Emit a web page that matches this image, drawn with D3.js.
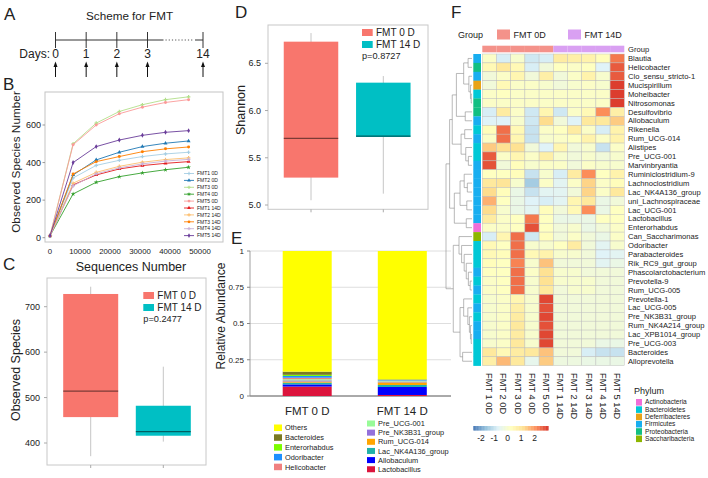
<!DOCTYPE html>
<html><head><meta charset="utf-8">
<script src="https://cdn.jsdelivr.net/npm/d3@7"></script>
<style>
body{margin:0;background:#fff}
svg{display:block}
text{font-family:"Liberation Sans",Arial,Helvetica,sans-serif;fill:#222}
</style>
</head><body>
<svg id="c" width="708" height="478"></svg>
<script>
// ---------------- DATA ----------------
const days = [0, 1, 2, 3, 14];
const dayLabels = ["0", "1", "2", "3", "14"];

const seqDepths = [0, 7700, 15400, 23100, 30800, 38500, 46200];
const rareSamples = ["FMT1 0D","FMT2 0D","FMT3 0D","FMT4 0D","FMT5 0D","FMT1 14D","FMT2 14D","FMT3 14D","FMT4 14D","FMT5 14D"];
const rareColors = ["#a6cee3","#1f78b4","#b2df8a","#33a02c","#fb9a99","#e31a1c","#fdbf6f","#ff7f00","#cab2d6","#6a3d9a"];
const rareValues = [
  [10, 318, 385, 412, 432, 446, 455],
  [10, 334, 414, 455, 485, 503, 515],
  [10, 500, 610, 672, 708, 735, 750],
  [10, 233, 295, 325, 345, 362, 375],
  [10, 495, 600, 660, 695, 720, 735],
  [10, 281, 334, 366, 384, 396, 405],
  [10, 290, 348, 380, 402, 416, 425],
  [10, 339, 405, 432, 458, 473, 483],
  [10, 276, 340, 372, 393, 408, 417],
  [10, 400, 485, 520, 545, 561, 570]
];
const xTicksB = [0, 10000, 20000, 30000, 40000, 50000];
const yTicksB = [0, 200, 400, 600];

const boxGroups = ["FMT 0 D", "FMT 14 D"];
const boxColors = ["#f8766d", "#00bfc4"];
// min, q1, median, q3, max
const obsStats = [[371, 457, 514, 728, 744], [403, 416, 425, 482, 568]];
const obsTicks = [400, 500, 600, 700];
const obsP = "p=0.2477";
const shanStats = [[5.05, 5.29, 5.706, 6.729, 6.82], [5.12, 5.72, 5.73, 6.295, 6.365]];
const shanTicks = [5.0, 5.5, 6.0, 6.5];
const shanP = "p=0.8727";

const barGroups = ["FMT 0 D", "FMT 14 D"];
const taxa = ["Lactobacillus","Allobaculum","Lac_NK4A136_group","Rum_UCG-014","Pre_NK3B31_group","Pre_UCG-001","Helicobacter","Odoribacter","Enterorhabdus","Bacteroides","Others"];
const taxaColors = ["#dc143c","#0000ff","#20b2aa","#ffa500","#9370db","#98fb98","#f08080","#1e90ff","#7cfc00","#7a7a22","#ffff00"];
const abund0D  = [0.065, 0.015, 0.012, 0.008, 0.008, 0.008, 0.010, 0.012, 0.008, 0.022, 0.832];
const abund14D = [0.007, 0.055, 0.014, 0.018, 0.006, 0.004, 0.002, 0.004, 0.002, 0.003, 0.885];
const legendLeft = ["Others","Bacteroides","Enterorhabdus","Odoribacter","Helicobacter"];
const legendRight = ["Pre_UCG-001","Pre_NK3B31_group","Rum_UCG-014","Lac_NK4A136_group","Allobaculum","Lactobacillus"];
const abundTicks = [0, 0.25, 0.5, 0.75, 1];
const abundTickLabels = ["0", "0.25", "0.5", "0.75", "1"];

const heatSamples = ["FMT 1 0D","FMT 2 0D","FMT 3 0D","FMT 4 0D","FMT 5 0D","FMT 1 14D","FMT 2 14D","FMT 3 14D","FMT 4 14D","FMT 5 14D"];
const heatGroupOf = ["FMT 0D","FMT 0D","FMT 0D","FMT 0D","FMT 0D","FMT 14D","FMT 14D","FMT 14D","FMT 14D","FMT 14D"];
const groupNames = ["FMT 0D", "FMT 14D"];
const groupColors = ["#f4928a", "#d9a0f2"];
const genera = ["Blautia","Helicobacter","Clo_sensu_stricto-1","Mucispirillum","Moheibacter","Nitrosomonas","Desulfovibrio","Allobaculum","Rikenella","Rum_UCG-014","Alistipes","Pre_UCG-001","Marvinbryantia","Ruminiclostridium-9","Lachnoclostridium","Lac_NK4A136_group","uni_Lachnospiraceae","Lac_UCG-001","Lactobacillus","Enterorhabdus","Can_Saccharimonas","Odoribacter","Parabacteroides","Rik_RC9_gut_group","Phascolarctobacterium","Prevotella-9","Rum_UCG-005","Prevotella-1","Lac_UCG-005","Pre_NK3B31_group","Rum_NK4A214_group","Lac_XPB1014_group","Pre_UCG-003","Bacteroides","Alloprevotella"];
const generaPhylum = ["Firmicutes","Proteobacteria","Firmicutes","Deferribacteres","Bacteroidetes","Proteobacteria","Proteobacteria","Firmicutes","Bacteroidetes","Firmicutes","Bacteroidetes","Bacteroidetes","Firmicutes","Firmicutes","Firmicutes","Firmicutes","Firmicutes","Firmicutes","Firmicutes","Actinobacteria","Saccharibacteria","Bacteroidetes","Bacteroidetes","Bacteroidetes","Firmicutes","Bacteroidetes","Firmicutes","Bacteroidetes","Firmicutes","Bacteroidetes","Firmicutes","Firmicutes","Bacteroidetes","Bacteroidetes","Bacteroidetes"];
const heatValues = [
  [0.1,-0.8,0.0,-0.9,-0.8,0.8,0.7,0.6,0.3,2.3],
  [0.4,0.9,0.4,-0.8,-0.2,0.2,0.1,0.2,-0.7,2.6],
  [-0.2,0.1,0.5,-0.2,0.7,-0.2,0.1,0.6,0.0,2.6],
  [-0.2,0.4,0.1,0.1,0.0,-0.2,0.0,0.1,0.0,2.9],
  [0.1,0.2,0.1,0.1,0.1,0.1,0.1,0.1,0.1,2.9],
  [0.1,0.1,0.1,0.1,0.1,0.1,0.1,0.1,0.1,2.9],
  [-0.8,0.8,0.1,-0.9,0.5,-0.9,0.1,0.4,2.1,0.7],
  [-0.7,-0.7,0.0,-0.9,1.2,-0.2,-0.7,0.9,0.9,1.4],
  [0.3,2.4,0.4,-1.0,0.1,0.2,0.8,0.1,-0.8,0.6],
  [0.1,2.4,0.5,-1.0,0.0,0.1,0.2,0.6,0.1,0.6],
  [1.4,1.1,1.1,-0.2,-0.7,0.5,-0.2,0.0,-1.0,0.1],
  [2.6,0.1,0.5,0.1,0.7,0.0,-0.2,0.0,-0.2,0.0],
  [2.7,-0.2,0.3,0.0,0.1,0.1,-0.2,0.1,0.0,0.0],
  [0.2,0.2,0.3,-1.0,0.0,-0.8,0.8,2.1,0.2,0.6],
  [0.9,1.0,0.0,-1.4,0.1,-0.6,0.1,1.3,0.1,0.3],
  [1.2,0.3,-0.4,-1.0,-0.6,-0.6,-0.2,1.3,0.1,0.9],
  [1.7,0.2,-0.4,-0.7,-0.8,-0.6,0.5,0.9,-0.4,-0.2],
  [1.2,0.0,-0.4,-0.6,0.3,-0.2,0.4,2.1,-0.4,0.2],
  [0.8,0.1,0.2,2.3,0.2,-0.4,-0.4,-0.4,0.2,0.2],
  [0.1,0.1,0.2,2.7,0.2,-0.2,0.0,-0.4,-0.2,0.1],
  [-0.8,0.5,2.4,-0.9,0.3,-0.2,0.1,-0.2,-0.4,0.1],
  [0.4,0.2,2.4,0.0,0.0,0.2,0.8,-0.2,-0.6,0.0],
  [0.4,0.3,2.4,0.4,0.6,0.0,0.0,-0.2,-0.7,-0.6],
  [0.3,0.2,2.2,0.0,1.5,-0.2,-0.2,-0.2,-0.6,-0.4],
  [0.2,0.2,2.4,0.1,1.1,0.0,0.0,-0.2,-0.2,-0.2],
  [0.1,0.2,2.4,0.0,1.1,0.0,0.0,0.0,-0.2,-0.2],
  [0.1,0.2,2.4,0.0,0.9,-0.2,0.0,0.0,-0.2,-0.2],
  [0.0,0.1,0.5,0.0,2.8,-0.2,-0.2,-0.2,-0.2,-0.2],
  [0.0,0.1,0.7,0.0,2.7,-0.2,-0.2,-0.2,-0.2,-0.2],
  [0.0,0.1,0.8,0.0,2.8,-0.2,-0.2,-0.2,-0.2,-0.2],
  [0.0,0.1,0.9,0.0,2.7,-0.2,-0.2,-0.2,-0.2,-0.2],
  [0.0,0.1,0.8,0.0,2.8,-0.2,-0.2,-0.2,-0.2,-0.2],
  [0.0,0.1,0.9,0.0,2.8,-0.2,-0.2,-0.2,-0.4,-0.4],
  [0.9,0.4,0.8,0.9,1.5,-0.2,-0.2,-0.8,-1.0,-1.0],
  [0.7,1.6,0.9,-0.5,1.4,-0.3,-0.3,-0.4,-0.4,-0.4]
];
const phyla = ["Actinobacteria","Bacteroidetes","Deferribacteres","Firmicutes","Proteobacteria","Saccharibacteria"];
const phylaColors = ["#f06ed8","#00c8d6","#e8a317","#18aef0","#12bf82","#8db600"];
const colorTicks = [-2, -1, 0, 1, 2];
const heatRange = [-2.57, 3.03];
const heatPalette = ["#4575b4","#91bfdb","#e0f3f8","#ffffbf","#fee090","#fc8d59","#d73027"];
// row dendrogram: [height, left, right]
const dendro = [1.0,
  [0.86,
    [0.76,
      [0.6,
        [0.32, [0.15,"Blautia","Helicobacter"], [0.12,"Clo_sensu_stricto-1",[0.06,"Mucispirillum",[0.03,"Moheibacter","Nitrosomonas"]]]],
        [0.26,"Desulfovibrio","Allobaculum"]],
      [0.42,
        [0.28,"Rikenella","Rum_UCG-014"],
        [0.24,"Alistipes",[0.14,"Pre_UCG-001","Marvinbryantia"]]]],
    [0.68,
      [0.46,
        [0.3,"Ruminiclostridium-9",[0.18,"Lachnoclostridium","Lac_NK4A136_group"]],
        [0.2,"uni_Lachnospiraceae","Lac_UCG-001"]],
      [0.22,"Lactobacillus","Enterorhabdus"]]],
  [0.72,
    [0.5,"Can_Saccharimonas",[0.4,"Odoribacter",[0.3,"Parabacteroides",[0.22,"Rik_RC9_gut_group",[0.14,"Phascolarctobacterium",[0.07,"Prevotella-9","Rum_UCG-005"]]]]]],
    [0.46,
      [0.32,"Prevotella-1",[0.16,"Lac_UCG-005",[0.1,"Pre_NK3B31_group",[0.06,"Rum_NK4A214_group",[0.03,"Lac_XPB1014_group","Pre_UCG-003"]]]]],
      [0.36,"Bacteroides","Alloprevotella"]]]
];

// ---------------- DRAWING ----------------
const svg = d3.select("#c");
const panelLabels = [["A",4,20],["B",3,90],["C",3,270],["D",235,18],["E",231,244],["F",451,18]];
svg.selectAll("text.plab").data(panelLabels).join("text").attr("class","plab")
  .attr("x",d=>d[1]).attr("y",d=>d[2]).attr("font-size",17).text(d=>d[0]);

// ===== Panel A =====
(function(){
  const g = svg.append("g");
  const x = d3.scaleLinear().domain([0,3,14]).range([55.5,147.5,203]);
  const yLine = 40;
  g.append("text").attr("x",86).attr("y",20).attr("font-size",11.7).text("Scheme for FMT");
  g.append("line").attr("x1",x(0)).attr("x2",x(3)+16).attr("y1",yLine).attr("y2",yLine).attr("stroke","#333").attr("stroke-width",1);
  g.append("line").attr("x1",x(3)+18).attr("x2",x(14)-10).attr("y1",yLine).attr("y2",yLine).attr("stroke","#555").attr("stroke-width",1).attr("stroke-dasharray","1.2,2");
  g.append("line").attr("x1",x(14)-8).attr("x2",x(14)).attr("y1",yLine).attr("y2",yLine).attr("stroke","#333");
  g.selectAll("line.tk").data(days).join("line").attr("class","tk")
    .attr("x1",d=>x(d)).attr("x2",d=>x(d)).attr("y1",yLine-8).attr("y2",yLine+8).attr("stroke","#333");
  g.selectAll("text.dl").data(days).join("text").attr("class","dl")
    .attr("x",d=>x(d)).attr("y",58).attr("text-anchor","middle").attr("font-size",12).text((d,i)=>dayLabels[i]);
  g.append("text").attr("x",50).attr("y",58).attr("text-anchor","end").attr("font-size",12).text("Days:");
  g.selectAll("line.ar").data(days).join("line").attr("class","ar")
    .attr("x1",d=>x(d)).attr("x2",d=>x(d)).attr("y1",66).attr("y2",77).attr("stroke","#111").attr("stroke-width",1);
  g.selectAll("path.ah").data(days).join("path").attr("class","ah")
    .attr("d",d=>`M${x(d)},61.5L${x(d)-2},67L${x(d)+2},67Z`).attr("fill","#111");
})();

// ===== Panel B =====
(function(){
  const g = svg.append("g");
  const x = d3.scaleLinear().domain([0,50000]).range([50,200]);
  const y = d3.scaleLinear().domain([0,600]).range([237.7,125]);
  g.append("rect").attr("x",45).attr("y",92).attr("width",178).attr("height",150).attr("fill","#fff").attr("stroke","#c4c4c4");
  g.selectAll("text.yt").data(yTicksB).join("text").attr("class","yt")
    .attr("x",41).attr("y",d=>y(d)).attr("dy","0.35em").attr("text-anchor","end").attr("font-size",9).attr("fill","#333").text(d=>d);
  g.selectAll("line.ytk").data(yTicksB).join("line").attr("class","ytk")
    .attr("x1",42.5).attr("x2",45).attr("y1",d=>y(d)).attr("y2",d=>y(d)).attr("stroke","#999");
  g.selectAll("text.xt").data(xTicksB).join("text").attr("class","xt")
    .attr("x",d=>x(d)).attr("y",254).attr("text-anchor","middle").attr("font-size",7.8).attr("fill","#333").text(d=>d);
  g.append("text").attr("x",131).attr("y",271).attr("text-anchor","middle").attr("font-size",12.5).text("Sequences Number");
  g.append("text").attr("transform","translate(20,162) rotate(-90)").attr("text-anchor","middle").attr("font-size",11.8).text("Observed Species Number");
  const symTypes = [d3.symbolCross,d3.symbolTriangle,d3.symbolCross,d3.symbolStar,d3.symbolCircle,d3.symbolTriangle,d3.symbolCross,d3.symbolCircle,d3.symbolCross,d3.symbolDiamond];
  const line = d3.line().x((d,i)=>x(seqDepths[i])).y(d=>y(d));
  const ser = g.selectAll("g.ser").data(rareValues).join("g").attr("class","ser");
  ser.append("path").attr("d",d=>line(d)).attr("fill","none").attr("stroke",(d,i)=>rareColors[i]).attr("stroke-width",0.9);
  ser.each(function(vals,si){
    d3.select(this).selectAll("path.pt").data(vals).join("path").attr("class","pt")
      .attr("transform",(d,i)=>`translate(${x(seqDepths[i])},${y(d)})`)
      .attr("d",d3.symbol().type(symTypes[si]).size(7)).attr("fill",rareColors[si]);
  });
  // legend
  const lg = g.append("g");
  const ly = i => 173.5 + i*6.9;
  lg.selectAll("line").data(rareSamples).join("line")
    .attr("x1",184).attr("x2",194).attr("y1",(d,i)=>ly(i)).attr("y2",(d,i)=>ly(i)).attr("stroke",(d,i)=>rareColors[i]).attr("stroke-width",0.9);
  lg.selectAll("path").data(rareSamples).join("path")
    .attr("transform",(d,i)=>`translate(189,${ly(i)})`).attr("d",(d,i)=>d3.symbol().type(symTypes[i]).size(6)()).attr("fill",(d,i)=>rareColors[i]);
  lg.selectAll("text").data(rareSamples).join("text")
    .attr("x",197).attr("y",(d,i)=>ly(i)).attr("dy","0.35em").attr("font-size",5).attr("fill","#444").text(d=>d);
})();

// ===== Box plots (C, D) =====
function boxPanel(cfg){
  const g = svg.append("g");
  const y = d3.scaleLinear().domain(cfg.dom).range(cfg.rng);
  const x = d3.scalePoint().domain(boxGroups).range(cfg.xr);
  g.append("rect").attr("x",cfg.box[0]).attr("y",cfg.box[1]).attr("width",cfg.box[2]-cfg.box[0]).attr("height",cfg.box[3]-cfg.box[1])
    .attr("fill","#fff").attr("stroke","#c8c8c8");
  g.selectAll("text.yt").data(cfg.ticks).join("text").attr("class","yt")
    .attr("x",cfg.box[0]-7).attr("y",d=>y(d)).attr("dy","0.35em").attr("text-anchor","end").attr("font-size",9).attr("fill","#444")
    .text(d=>cfg.fmt(d));
  g.selectAll("line.ytk").data(cfg.ticks).join("line").attr("class","ytk")
    .attr("x1",cfg.box[0]-3).attr("x2",cfg.box[0]).attr("y1",d=>y(d)).attr("y2",d=>y(d)).attr("stroke","#aaa");
  g.selectAll("line.xtk").data(boxGroups).join("line").attr("class","xtk")
    .attr("x1",d=>x(d)).attr("x2",d=>x(d)).attr("y1",cfg.box[3]).attr("y2",cfg.box[3]+3).attr("stroke","#aaa");
  const bw = cfg.bw;
  const b = g.selectAll("g.bx").data(cfg.stats).join("g").attr("class","bx");
  b.append("line").attr("x1",(d,i)=>x(boxGroups[i])).attr("x2",(d,i)=>x(boxGroups[i]))
    .attr("y1",d=>y(d[0])).attr("y2",d=>y(d[4])).attr("stroke","#c6c6c6").attr("stroke-width",1);
  b.append("rect").attr("x",(d,i)=>x(boxGroups[i])-bw/2).attr("width",bw)
    .attr("y",d=>y(d[3])).attr("height",d=>y(d[1])-y(d[3])).attr("fill",(d,i)=>boxColors[i]);
  b.append("line").attr("x1",(d,i)=>x(boxGroups[i])-bw/2).attr("x2",(d,i)=>x(boxGroups[i])+bw/2)
    .attr("y1",d=>y(d[2])).attr("y2",d=>y(d[2])).attr("stroke","#000").attr("stroke-opacity",0.5).attr("stroke-width",1.3);
  // legend
  const lx = cfg.leg[0], ly0 = cfg.leg[1];
  g.selectAll("rect.lg").data(boxGroups).join("rect").attr("class","lg")
    .attr("x",lx).attr("y",(d,i)=>ly0+i*12).attr("width",10.7).attr("height",7).attr("fill",(d,i)=>boxColors[i]);
  g.selectAll("text.lg").data(boxGroups).join("text").attr("class","lg")
    .attr("x",lx+14).attr("y",(d,i)=>ly0+i*12+3.6).attr("dy","0.35em").attr("font-size",10).attr("fill","#333").text(d=>d);
  g.append("text").attr("x",lx).attr("y",ly0+30).attr("font-size",9.2).attr("fill","#333").text(cfg.p);
  g.append("text").attr("transform",`translate(${cfg.tt[0]},${cfg.tt[1]}) rotate(-90)`).attr("text-anchor","middle").attr("font-size",12.5).text(cfg.title);
}
boxPanel({dom:[400,700], rng:[443,306.7], xr:[90.7,163.3], box:[47,278,206,465], ticks:obsTicks, fmt:d=>d,
  stats:obsStats, bw:55, leg:[143.3,292], p:obsP, title:"Observed Species", tt:[20,370]});
boxPanel({dom:[5.0,6.5], rng:[205,63.3], xr:[311,383.3], box:[268,25,428,209.3], ticks:shanTicks, fmt:d=>d.toFixed(1),
  stats:shanStats, bw:54.5, leg:[362,29], p:shanP, title:"Shannon", tt:[245,110]});

// ===== Panel E =====
(function(){
  const g = svg.append("g");
  const y = d3.scaleLinear().domain([0,1]).range([396,251]);
  const x = d3.scalePoint().domain(barGroups).range([307.2,402.3]);
  const bw = 49;
  g.selectAll("line.gr").data(abundTicks.slice(1)).join("line").attr("class","gr")
    .attr("x1",250).attr("x2",451).attr("y1",d=>y(d)).attr("y2",d=>y(d)).attr("stroke","#d6d6d6").attr("stroke-width",0.8);
  g.append("line").attr("x1",250).attr("x2",451).attr("y1",y(0)).attr("y2",y(0)).attr("stroke","#555").attr("stroke-width",1);
  g.append("line").attr("x1",250).attr("x2",250).attr("y1",y(1)).attr("y2",y(0)).attr("stroke","#888").attr("stroke-width",0.8);
  g.selectAll("line.tk").data(abundTicks).join("line").attr("class","tk")
    .attr("x1",247).attr("x2",250).attr("y1",d=>y(d)).attr("y2",d=>y(d)).attr("stroke","#888");
  g.selectAll("text.yt").data(abundTicks).join("text").attr("class","yt")
    .attr("x",244).attr("y",d=>y(d)).attr("dy","0.35em").attr("text-anchor","end").attr("font-size",8).attr("fill","#444")
    .text((d,i)=>abundTickLabels[i]);
  const sets = [abund0D, abund14D];
  sets.forEach((vals,gi)=>{
    let cum = 0;
    vals.forEach((v,ti)=>{
      g.append("rect").attr("x",x(barGroups[gi])-bw/2).attr("width",bw)
        .attr("y",y(cum+v)).attr("height",y(cum)-y(cum+v)).attr("fill",taxaColors[ti]);
      cum += v;
    });
  });
  g.selectAll("text.xl").data(barGroups).join("text").attr("class","xl")
    .attr("x",d=>x(d)).attr("y",415).attr("text-anchor","middle").attr("font-size",11.5).text(d=>d);
  g.append("text").attr("transform","translate(225,316) rotate(-90)").attr("text-anchor","middle").attr("font-size",12).text("Relative Abundance");
  const col = n => taxaColors[taxa.indexOf(n)];
  g.selectAll("rect.ll").data(legendLeft).join("rect").attr("class","ll")
    .attr("x",274).attr("y",(d,i)=>424.5+i*9.8).attr("width",8).attr("height",6.5).attr("fill",col);
  g.selectAll("text.ll").data(legendLeft).join("text").attr("class","ll")
    .attr("x",285).attr("y",(d,i)=>427.8+i*9.8).attr("dy","0.35em").attr("font-size",7.4).attr("fill","#333").text(d=>d);
  g.selectAll("rect.lr").data(legendRight).join("rect").attr("class","lr")
    .attr("x",367).attr("y",(d,i)=>420.5+i*9.15).attr("width",8).attr("height",6).attr("fill",col);
  g.selectAll("text.lr").data(legendRight).join("text").attr("class","lr")
    .attr("x",378).attr("y",(d,i)=>423.5+i*9.15).attr("dy","0.35em").attr("font-size",7.4).attr("fill","#333").text(d=>d);
})();

// ===== Panel F =====
(function(){
  const g = svg.append("g");
  const x = d3.scaleBand().domain(heatSamples).range([482.3,624.3]);
  const y = d3.scaleBand().domain(genera).range([54,365.7]);
  const color = d3.scaleLinear()
    .domain(heatPalette.map((c,i)=>heatRange[0]+i*(heatRange[1]-heatRange[0])/(heatPalette.length-1)))
    .range(heatPalette).clamp(true);
  // group legend
  g.append("text").attr("x",458).attr("y",35).attr("dy","0.35em").attr("font-size",9).attr("fill","#333").text("Group");
  const glx = [497, 568];
  g.selectAll("rect.gl").data(groupNames).join("rect").attr("class","gl")
    .attr("x",(d,i)=>glx[i]).attr("y",29.5).attr("width",13).attr("height",10).attr("fill",(d,i)=>groupColors[i]);
  g.selectAll("text.gl").data(groupNames).join("text").attr("class","gl")
    .attr("x",(d,i)=>glx[i]+16.5).attr("y",34.5).attr("dy","0.35em").attr("font-size",9).attr("fill","#333").text(d=>d);
  // group annotation
  g.selectAll("rect.ga").data(heatSamples).join("rect").attr("class","ga")
    .attr("x",d=>x(d)).attr("width",x.bandwidth()).attr("y",45.7).attr("height",6.6)
    .attr("fill",(d,i)=>groupColors[groupNames.indexOf(heatGroupOf[i])]);
  g.append("text").attr("x",628).attr("y",49).attr("dy","0.35em").attr("font-size",7.6).attr("fill","#333").text("Group");
  // cells
  const cells = [];
  heatValues.forEach((row,r)=>row.forEach((v,c)=>cells.push({r,c,v})));
  g.selectAll("rect.cell").data(cells).join("rect").attr("class","cell")
    .attr("x",d=>x(heatSamples[d.c])).attr("y",d=>y(genera[d.r]))
    .attr("width",x.bandwidth()).attr("height",y.bandwidth())
    .attr("fill",d=>color(d.v)).attr("stroke","#bdbdbd").attr("stroke-width",0.45);
  // phylum strip
  g.selectAll("rect.ph").data(genera).join("rect").attr("class","ph")
    .attr("x",473.3).attr("width",7.7).attr("y",d=>y(d)).attr("height",y.bandwidth()+0.2)
    .attr("fill",(d,i)=>phylaColors[phyla.indexOf(generaPhylum[i])]);
  // row labels
  g.selectAll("text.rl").data(genera).join("text").attr("class","rl")
    .attr("x",628).attr("y",d=>y(d)+y.bandwidth()/2).attr("dy","0.35em").attr("font-size",7.6).attr("fill","#333").text(d=>d);
  // column labels
  g.selectAll("text.cl").data(heatSamples).join("text").attr("class","cl")
    .attr("transform",d=>`translate(${x(d)+x.bandwidth()/2-3.3},373) rotate(90)`)
    .attr("font-size",9.3).attr("fill","#333").text(d=>d);
  // dendrogram
  const hx = d3.scaleLinear().domain([0,1]).range([472,446]);
  const segs = [];
  function walk(n){
    if (typeof n === "string") return {x:hx(0), y:y(n)+y.bandwidth()/2};
    const a = walk(n[1]), b = walk(n[2]);
    const xx = hx(n[0]);
    segs.push([xx,a.y,xx,b.y],[xx,a.y,a.x,a.y],[xx,b.y,b.x,b.y]);
    return {x:xx, y:(a.y+b.y)/2};
  }
  walk(dendro);
  g.selectAll("line.dg").data(segs).join("line").attr("class","dg")
    .attr("x1",d=>d[0]).attr("y1",d=>d[1]).attr("x2",d=>d[2]).attr("y2",d=>d[3])
    .attr("stroke","#8a8a8a").attr("stroke-width",0.6);
  // color bar
  const cb = d3.scaleLinear().domain(heatRange).range([473.3,548.3]);
  const steps = d3.range(0,100).map(i=>heatRange[0]+(i+0.5)*(heatRange[1]-heatRange[0])/100);
  const sw = (548.3-473.3)/100;
  g.selectAll("rect.cb").data(steps).join("rect").attr("class","cb")
    .attr("x",d=>cb(d)-sw/2).attr("width",sw+0.3).attr("y",426).attr("height",4.5).attr("fill",d=>color(d));
  g.selectAll("text.cb").data(colorTicks).join("text").attr("class","cb")
    .attr("x",d=>cb(d)).attr("y",441).attr("text-anchor","middle").attr("font-size",8.5).attr("fill","#333").text(d=>d);
  // phylum legend
  g.append("text").attr("x",634).attr("y",393.5).attr("font-size",9).attr("fill","#333").text("Phylum");
  g.selectAll("rect.pl").data(phyla).join("rect").attr("class","pl")
    .attr("x",636).attr("y",(d,i)=>399+i*7.3).attr("width",6).attr("height",6.6).attr("fill",(d,i)=>phylaColors[i]);
  g.selectAll("text.pl").data(phyla).join("text").attr("class","pl")
    .attr("x",645).attr("y",(d,i)=>402.3+i*7.3).attr("dy","0.33em").attr("font-size",6.6).attr("fill","#333").text(d=>d);
})();
</script>
</body></html>
